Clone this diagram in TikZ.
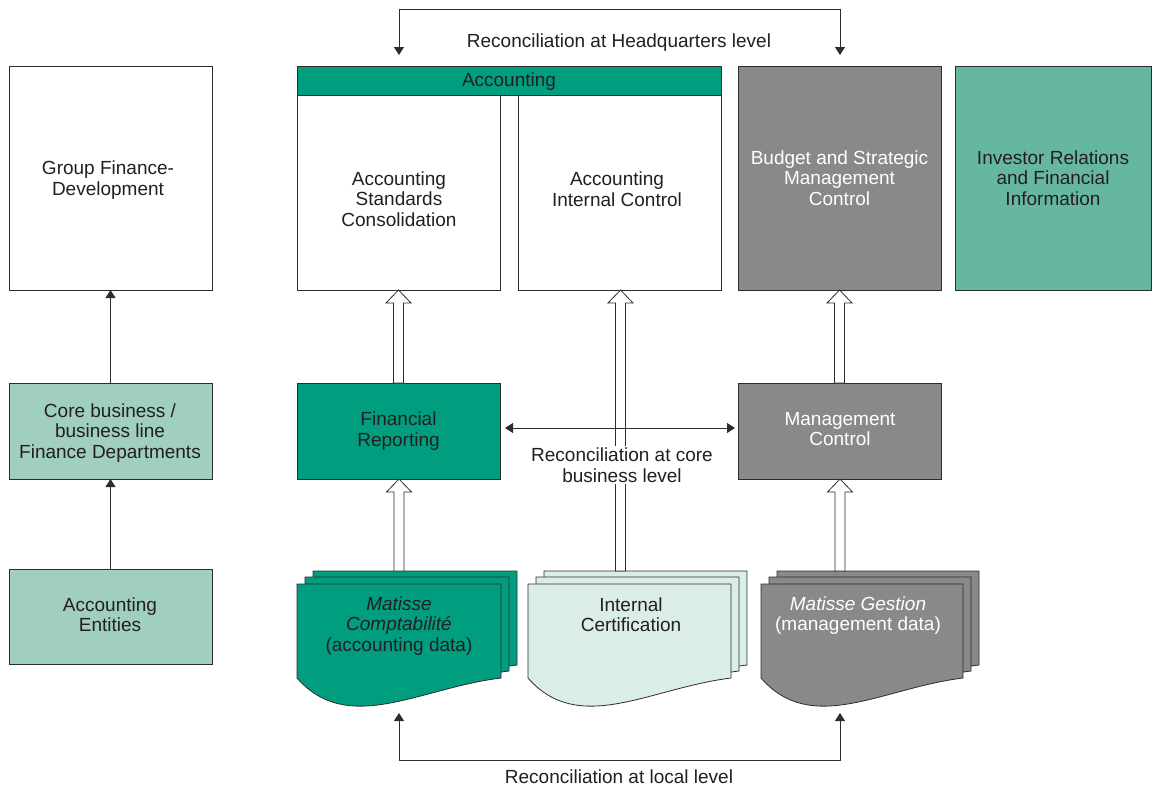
\documentclass[tikz,border=0pt]{standalone}
\usepackage{fontspec}
\setmainfont{Liberation Sans}
\usetikzlibrary{arrows.meta,calc}
\definecolor{cgreen}{RGB}{0,158,127}
\definecolor{cinvest}{RGB}{102,183,160}
\definecolor{cpale}{RGB}{160,206,193}
\definecolor{cpaler}{RGB}{219,237,232}
\definecolor{cgray}{RGB}{136,137,136}
\definecolor{cborder}{RGB}{45,45,45}
\definecolor{ctext}{RGB}{35,31,32}
\newcommand{\harrow}[2]{\path[draw=cborder,line width=0.8pt,fill=white] let \p1=#1, \p2=#2 in (\x1-5pt,\y1) -- (\x1-5pt,\y2-13pt) -- (\x1-12.5pt,\y2-13pt) -- (\x1,\y2) -- (\x1+12.5pt,\y2-13pt) -- (\x1+5pt,\y2-13pt) -- (\x1+5pt,\y1) -- cycle;}
\newcommand{\mydoc}[4]{\filldraw[draw=cborder,line width=0.8pt,fill=#4] (#1,#2) -- ({#1+#3},#2) -- ({#1+#3},{#2+94}) .. controls ({#1+0.6*#3},{#2+104}) and ({#1+0.25*#3},{#2+152}) .. (#1,{#2+94}) -- cycle;}
\begin{document}
\begin{tikzpicture}[x=1pt,y=-1pt,font=\fontsize{19}{20.5}\selectfont,
  box/.style={draw=cborder,line width=0.8pt,inner sep=2pt,outer sep=0pt,align=center,anchor=north west,text=ctext},
  lbl/.style={align=center,text=ctext,inner sep=1pt},
  conn/.style={draw=cborder,line width=0.9pt},
  tip/.tip={Triangle[length=8pt,width=10pt]}]
\useasboundingbox (0,0) rectangle (1152,788);

% top row
\node[box,minimum width=203pt,minimum height=224pt] (gfd) at (9,66) {};
\node[lbl] (gfdt) at (108,180) {Group Finance-\\Development};
\node[box,minimum width=203pt,minimum height=195pt] (asc) at (297,95) {};
\node[box,minimum width=203pt,minimum height=195pt] (aic) at (518,95) {};
\node[box,fill=cgreen,minimum width=424pt,minimum height=29pt] (acc) at (297,66) {};
\node[lbl] (acct) at (509,82) {Accounting};
\node[lbl] (asct) at (399,199) {Accounting\\Standards\\Consolidation};
\node[lbl] (aict) at (617,189) {Accounting\\Internal Control};
\node[box,fill=cgray,text=white,minimum width=203pt,minimum height=224pt] (bsm) at (738,66) {Budget and Strategic\\Management\\Control};
\node[box,fill=cinvest,minimum width=196pt,minimum height=224pt] (irf) at (955,66) {Investor Relations\\and Financial\\Information};

% middle row
\node[box,fill=cpale,minimum width=203pt,minimum height=96pt] (cb) at (9,383) {};
\node[lbl] (cbt) at (110,433) {Core business /\\business line\\Finance Departments};
\node[box,fill=cgreen,minimum width=203pt,minimum height=96pt] (fr) at (297,383) {Financial\\Reporting};
\node[box,fill=cgray,minimum width=203pt,minimum height=96pt] (mc) at (738,383) {};
\node[lbl,text=white] (mct2) at (840,429) {Management\\Control};

% bottom row
\node[box,fill=cpale,minimum width=203pt,minimum height=95pt] (ae) at (9,569) {};
\node[lbl] (aet) at (110,614.5) {Accounting\\Entities};

\mydoc{313}{571}{204}{cgreen}
\mydoc{305}{577}{204}{cgreen}
\mydoc{297}{584}{204}{cgreen}
\node[lbl] (mct) at (399,626) {\textit{Matisse}\\\textit{Comptabilité}\\(accounting data)};

\mydoc{544}{571}{203}{cpaler}
\mydoc{536}{577}{203}{cpaler}
\mydoc{528}{584}{203}{cpaler}
\node[lbl] (ict) at (631,614.5) {Internal\\Certification};

\mydoc{777}{571}{202}{cgray}
\mydoc{769}{577}{202}{cgray}
\mydoc{761}{584}{202}{cgray}
\node[lbl,text=white] (mgt) at (858,615.5) {\textit{Matisse Gestion}\\(management data)};

\coordinate (d1top) at (399,571);
\coordinate (d2top) at (620.5,571);
\coordinate (d3top) at (840,571);

% left arrows
\draw[conn,-tip] (ae.north) -- (cb.south);
\draw[conn,-tip] (cb.north) -- (gfd.south);

% hollow arrows
\harrow{(fr.north)}{(asc.south)}
\harrow{(mc.north)}{(bsm.south)}
\harrow{(d1top)}{(fr.south)}
\harrow{(d3top)}{(mc.south)}
\harrow{(d2top)}{(d2top |- aic.south)}

% core business reconciliation
\node[lbl,fill=white,inner sep=2pt] (rcb) at (622,465) {Reconciliation at core\\business level};
\coordinate (rcbL) at (505,428);
\coordinate (rcbR) at (735,428);
\draw[conn,tip-tip] (rcbL) -- (rcbR);

% headquarters reconciliation
\coordinate (hqL) at (399,9.5);
\coordinate (hqR) at (840,9.5);
\coordinate (hqLe) at (399,55);
\coordinate (hqRe) at (840,55);
\draw[conn,tip-tip] (hqLe) -- (hqL) -- (hqR) -- (hqRe);
\node[lbl] (hqt) at (619,43) {Reconciliation at Headquarters level};

% local reconciliation
\coordinate (loL) at (399,760);
\coordinate (loR) at (840,760);
\coordinate (loLe) at (399,713);
\coordinate (loRe) at (840,713);
\draw[conn,tip-tip] (loLe) -- (loL) -- (loR) -- (loRe);
\node[lbl] (lot) at (619,777) {Reconciliation at local level};
\end{tikzpicture}
\end{document}
